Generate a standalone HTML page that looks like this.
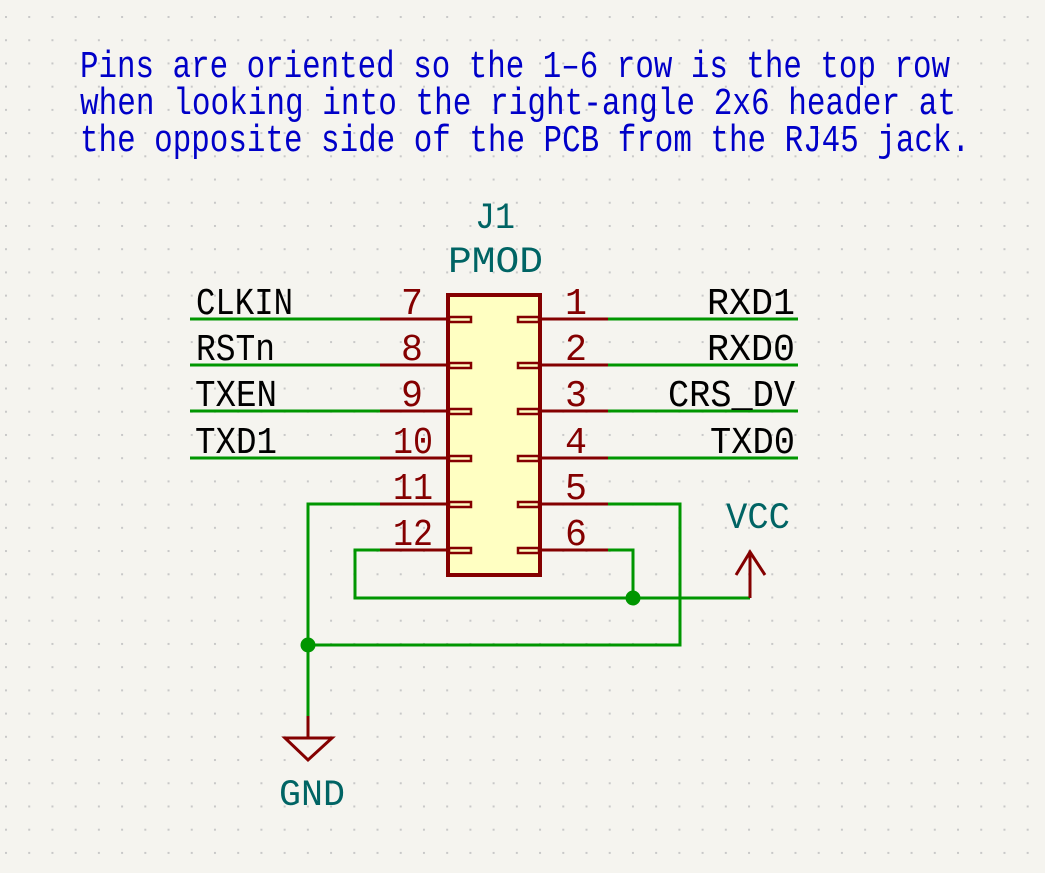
<!DOCTYPE html>
<html><head><meta charset="utf-8"><style>
html,body{margin:0;padding:0;background:#f5f4ef;}
svg{display:block;}
text{font-family:"Liberation Mono","DejaVu Sans Mono",monospace;}
</style></head><body>
<svg width="1045" height="873" viewBox="0 0 1045 873" xmlns="http://www.w3.org/2000/svg">
<defs>
<pattern id="g" x="5" y="16" width="23.22" height="23.22" patternUnits="userSpaceOnUse">
<rect x="0" y="0" width="2" height="2" fill="#c8c8c8"/>
</pattern>
</defs>
<rect width="1045" height="873" fill="#f5f4ef"/>
<rect width="1045" height="873" fill="url(#g)"/>

<g fill="#0000c8" font-size="38">
<text x="80" y="77" textLength="870" lengthAdjust="spacingAndGlyphs">Pins are oriented so the 1–6 row is the top row</text>
<text x="80" y="114" textLength="876" lengthAdjust="spacingAndGlyphs">when looking into the right-angle 2x6 header at</text>
<text x="80" y="151" textLength="890" lengthAdjust="spacingAndGlyphs">the opposite side of the PCB from the RJ45 jack.</text>
</g>

<g fill="#006464" font-size="37">
<text x="475" y="228" textLength="40" lengthAdjust="spacingAndGlyphs">J1</text>
<text x="448" y="272" textLength="95" lengthAdjust="spacingAndGlyphs">PMOD</text>
<text x="726" y="528" textLength="64" lengthAdjust="spacingAndGlyphs">VCC</text>
<text x="279" y="805" textLength="66" lengthAdjust="spacingAndGlyphs">GND</text>
</g>

<g stroke="#009600" stroke-width="3" fill="none">
<line x1="190" y1="319" x2="380" y2="319"/>
<line x1="190" y1="365" x2="380" y2="365"/>
<line x1="190" y1="411" x2="380" y2="411"/>
<line x1="190" y1="458" x2="380" y2="458"/>
<line x1="608" y1="319" x2="798" y2="319"/>
<line x1="608" y1="365" x2="798" y2="365"/>
<line x1="608" y1="411" x2="798" y2="411"/>
<line x1="608" y1="458" x2="798" y2="458"/>
<polyline points="380,504 308,504 308,716"/>
<polyline points="308,645 680,645 680,504 608,504"/>
<polyline points="380,550 355,550 355,598 750,598"/>
<polyline points="608,550 633,550 633,598"/>
</g>
<circle cx="308" cy="645" r="7.5" fill="#009600"/>
<circle cx="633" cy="598" r="7.5" fill="#009600"/>

<rect x="448" y="295" width="92" height="280" fill="#ffffc2" stroke="#840000" stroke-width="4"/>
<g stroke="#840000" stroke-width="3" fill="none">
<line x1="380" y1="319" x2="448" y2="319"/><line x1="540" y1="319" x2="608" y2="319"/>
<line x1="380" y1="365" x2="448" y2="365"/><line x1="540" y1="365" x2="608" y2="365"/>
<line x1="380" y1="411" x2="448" y2="411"/><line x1="540" y1="411" x2="608" y2="411"/>
<line x1="380" y1="458" x2="448" y2="458"/><line x1="540" y1="458" x2="608" y2="458"/>
<line x1="380" y1="504" x2="448" y2="504"/><line x1="540" y1="504" x2="608" y2="504"/>
<line x1="380" y1="550" x2="448" y2="550"/><line x1="540" y1="550" x2="608" y2="550"/>
</g>
<g fill="none" stroke="#840000" stroke-width="2.5">
<rect x="449" y="317" width="22" height="5"/><rect x="518" y="317" width="21" height="5"/>
<rect x="449" y="363" width="22" height="5"/><rect x="518" y="363" width="21" height="5"/>
<rect x="449" y="409" width="22" height="5"/><rect x="518" y="409" width="21" height="5"/>
<rect x="449" y="456" width="22" height="5"/><rect x="518" y="456" width="21" height="5"/>
<rect x="449" y="502" width="22" height="5"/><rect x="518" y="502" width="21" height="5"/>
<rect x="449" y="548" width="22" height="5"/><rect x="518" y="548" width="21" height="5"/>
</g>

<g fill="#840000" font-size="38">
<text x="401" y="314" textLength="22" lengthAdjust="spacingAndGlyphs">7</text>
<text x="401" y="360" textLength="22" lengthAdjust="spacingAndGlyphs">8</text>
<text x="401" y="406" textLength="22" lengthAdjust="spacingAndGlyphs">9</text>
<text x="393" y="453" textLength="40" lengthAdjust="spacingAndGlyphs">10</text>
<text x="393" y="499" textLength="40" lengthAdjust="spacingAndGlyphs">11</text>
<text x="393" y="545" textLength="40" lengthAdjust="spacingAndGlyphs">12</text>
<text x="565" y="314" textLength="22" lengthAdjust="spacingAndGlyphs">1</text>
<text x="565" y="360" textLength="22" lengthAdjust="spacingAndGlyphs">2</text>
<text x="565" y="406" textLength="22" lengthAdjust="spacingAndGlyphs">3</text>
<text x="565" y="453" textLength="22" lengthAdjust="spacingAndGlyphs">4</text>
<text x="565" y="499" textLength="22" lengthAdjust="spacingAndGlyphs">5</text>
<text x="565" y="545" textLength="22" lengthAdjust="spacingAndGlyphs">6</text>
</g>

<g fill="#000" font-size="38">
<text x="196" y="314" textLength="97" lengthAdjust="spacingAndGlyphs">CLKIN</text>
<text x="196" y="360" textLength="79" lengthAdjust="spacingAndGlyphs">RSTn</text>
<text x="195" y="406" textLength="82" lengthAdjust="spacingAndGlyphs">TXEN</text>
<text x="195" y="453" textLength="82" lengthAdjust="spacingAndGlyphs">TXD1</text>
<text x="707" y="314" textLength="88" lengthAdjust="spacingAndGlyphs">RXD1</text>
<text x="707" y="360" textLength="88" lengthAdjust="spacingAndGlyphs">RXD0</text>
<text x="668" y="406" textLength="127" lengthAdjust="spacingAndGlyphs">CRS_DV</text>
<text x="710" y="453" textLength="85" lengthAdjust="spacingAndGlyphs">TXD0</text>
</g>

<g stroke="#840000" stroke-width="3" fill="none">
<line x1="750" y1="598" x2="750" y2="552"/>
<polyline points="736,575 750,552 765,575"/>
<line x1="308" y1="716" x2="308" y2="738"/>
<polygon points="285,738 332,738 308,760"/>
</g>
</svg>
</body></html>
